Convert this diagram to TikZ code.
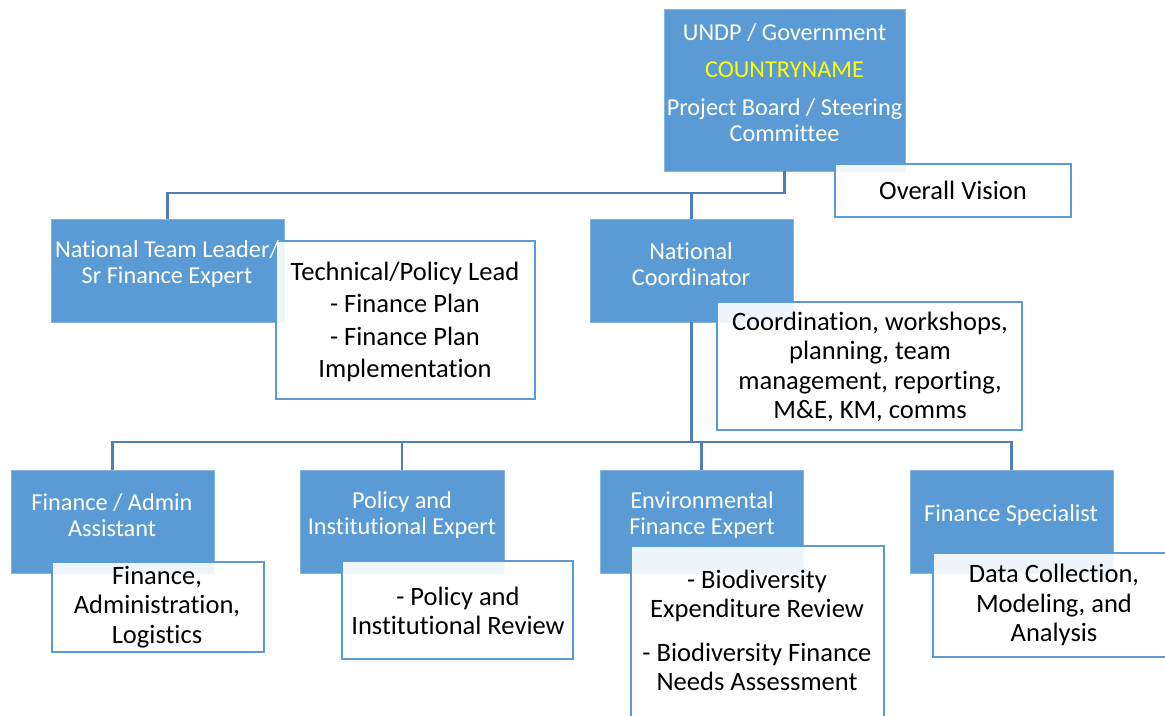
\documentclass[tikz,border=0pt]{standalone}
\usepackage{fontspec}
\setmainfont{Carlito}[Ligatures=NoCommon]
\usetikzlibrary{fit}
\definecolor{boxblue}{HTML}{5B9BD5}
\definecolor{linkblue}{HTML}{4E7FBA}
\definecolor{cyellow}{HTML}{FFFF00}
\begin{document}
\begin{tikzpicture}[x=0.75pt,y=-0.75pt,
  bluebox/.style={fill=boxblue, draw=boxblue!75!white, line width=0.4pt, inner sep=0pt},
  whitebox/.style={fill=white, fill opacity=0.9, draw=boxblue, draw opacity=1, line width=1.6pt, inner sep=0pt},
  btext/.style={text=white, align=center, inner sep=0pt, font=\fontsize{18.2pt}{20pt}\selectfont},
  wtext/.style={text=black, align=center, inner sep=0pt, font=\fontsize{19.9pt}{22.3pt}\selectfont},
  conn/.style={draw=linkblue, line width=2pt}]
\useasboundingbox (0,0) rectangle (1165,715);
\fill[white] (0,0) rectangle (1165,715);
\clip (0,0) rectangle (1165,715);

% blue boxes
\node[bluebox, fit={(664,9) (905,171)}] (top) {};
\node[bluebox, fit={(51,219) (284,322)}] (ntl) {};
\node[bluebox, fit={(590,219) (793,322)}] (nc) {};
\node[bluebox, fit={(11,470) (214,573)}] (fa) {};
\node[bluebox, fit={(300,470) (504,573)}] (pi) {};
\node[bluebox, fit={(600,470) (803,573)}] (ef) {};
\node[bluebox, fit={(910,470) (1113,573)}] (fs) {};

% connectors
\coordinate (bus1) at (0,193);
\coordinate (bus2) at (0,442);
\draw[conn] (top.south) -- (top.south |- bus1) -| (ntl.north);
\draw[conn] (top.south |- bus1) -| (nc.north);
\draw[conn] (nc.south) -- (nc.south |- bus2);
\draw[conn] (fa.north) |- (fs.north |- bus2) -- (fs.north);
\draw[conn] (pi.north) -- (pi.north |- bus2);
\draw[conn] (ef.north) -- (ef.north |- bus2);

% white boxes
\node[whitebox, fit={(835,164) (1071,217)}] (vis) {};
\node[whitebox, fit={(276,241) (535,399)}] (tech) {};
\node[whitebox, fit={(717,302) (1022,430)}] (coord) {};
\node[whitebox, fit={(52,562) (264,652)}] (faw) {};
\node[whitebox, fit={(342,561) (573,659)}] (piw) {};
\node[whitebox, fit={(631,546) (884,730)}] (efw) {};
\node[whitebox, fit={(933,553) (1180,657)}] (fsw) {};

% blue box texts
\node[btext] (topa) at (784.5,33) {UNDP / Government};
\node[btext, text=cyellow] (topb) at (784.5,70) {COUNTRYNAME};
\node[btext] (topc) at (784.5,120) {Project Board / Steering\\Committee};
\node[btext] (ntlt) at (167,264) {National Team Leader/\\Sr Finance Expert};
\node[btext] (nct) at (691,264) {National\\Coordinator};
\node[btext] (fat) at (112,515) {Finance / Admin\\Assistant};
\node[btext] (pit) at (402,515) {Policy and\\Institutional Expert};
\node[btext] (eft) at (702,515) {Environmental\\Finance Expert};
\node[btext] (fst) at (1011,515) {Finance Specialist};

% white box texts
\node[wtext] (vist) at (953,190) {Overall Vision};
\node[wtext, font=\fontsize{19.9pt}{24.4pt}\selectfont] (techt) at (405,322) {Technical/Policy Lead\\- Finance Plan\\- Finance Plan\\Implementation};
\node[wtext, font=\fontsize{19.9pt}{21.8pt}\selectfont] (coordt) at (870,367) {Coordination, workshops,\\planning, team\\management, reporting,\\M\&E, KM, comms};
\node[wtext] (fawt) at (157,607) {Finance,\\Administration,\\Logistics};
\node[wtext] (piwt) at (458,611) {- Policy and\\Institutional Review};
\node[wtext] (efwa) at (757,596) {- Biodiversity\\Expenditure Review};
\node[wtext] (efwb) at (757,667) {- Biodiversity Finance\\Needs Assessment};
\node[wtext] (fswt) at (1054,605) {Data Collection,\\Modeling, and\\Analysis};
\end{tikzpicture}
\end{document}
